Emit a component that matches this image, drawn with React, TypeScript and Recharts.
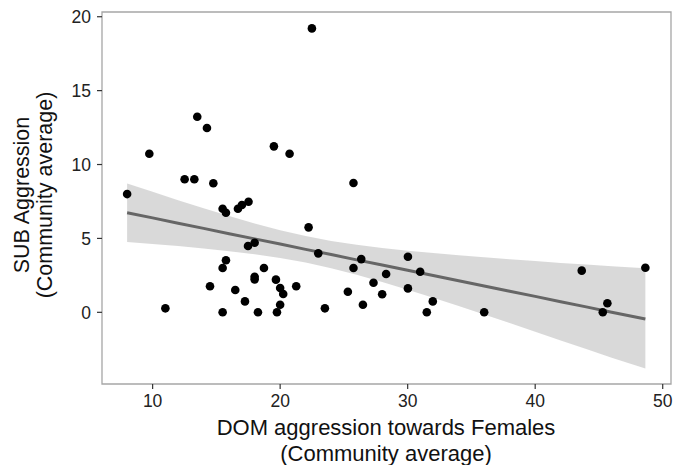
import React from "react";
import {
  ComposedChart,
  Scatter,
  Area,
  Line,
  XAxis,
  YAxis,
  ReferenceArea,
  Label,
} from "recharts";

// Observed community averages
const domX = [
  8.0, 9.74, 11.0, 12.51, 13.27, 13.5, 14.26, 14.5, 14.76, 15.49, 15.75, 15.75, 15.49, 15.49,
  16.48, 16.69, 17.0, 17.52, 17.24, 17.48, 18.0, 18.0, 18.0, 18.26, 18.73, 19.51, 19.67, 19.75,
  20.0, 20.24, 20.0, 20.74, 21.26, 22.23, 22.49, 22.99, 23.51, 25.31, 25.75, 25.75, 26.36, 26.49,
  27.32, 28.0, 28.31, 30.02, 30.98, 30.02, 31.97, 31.5, 36.0, 43.65, 45.3, 45.66, 48.64,
];
const subY = [
  8.0, 10.73, 0.27, 9.0, 9.0, 13.23, 12.47, 1.76, 8.73, 7.01, 6.74, 3.52, 3.0, 0.0,
  1.51, 7.01, 7.26, 7.48, 0.74, 4.49, 4.71, 2.41, 2.23, 0.0, 3.0, 11.23, 2.21, 0.0,
  1.64, 1.24, 0.51, 10.73, 1.76, 5.75, 19.21, 3.99, 0.27, 1.39, 8.75, 3.0, 3.6, 0.51,
  2.0, 1.22, 2.59, 3.76, 2.75, 1.62, 0.74, 0.0, 0.0, 2.82, 0.0, 0.61, 3.02,
];

// Fitted line and 95% band
const fitX = [8, 10, 12, 14, 16, 18, 20, 22, 24, 26, 28, 30, 32, 34, 36, 38, 40, 42, 44, 46, 48.64];
const fitY = [6.74, 6.39, 6.03, 5.68, 5.32, 4.97, 4.62, 4.26, 3.91, 3.55, 3.2, 2.85, 2.49, 2.14, 1.78, 1.43, 1.08, 0.72, 0.37, 0.01, -0.45];
const bandLow = [4.76, 4.62, 4.48, 4.32, 4.14, 3.93, 3.68, 3.37, 2.99, 2.54, 2.05, 1.53, 0.98, 0.42, -0.15, -0.73, -1.31, -1.9, -2.49, -3.08, -3.8];
const bandHigh = [8.72, 8.15, 7.59, 7.04, 6.51, 6.01, 5.55, 5.16, 4.83, 4.57, 4.35, 4.17, 4.01, 3.86, 3.72, 3.59, 3.47, 3.34, 3.23, 3.11, 2.98];

const xTicks = [10, 20, 30, 40, 50];
const yTicks = [0, 5, 10, 15, 20];
const xDomain = [6.03, 50.65];
const yDomain = [-4.85, 20.32];

const points = domX.map((x, i) => ({ x, y: subY[i] }));
const fitRows = fitX.map((x, i) => ({ x, fit: fitY[i], band: [bandLow[i], bandHigh[i]] }));

const FONT = "'Liberation Sans', Arial, Helvetica, sans-serif";

const XTitle = () => (
  <g>
    <text x={386} y={434.5} textAnchor="middle" fontSize={22} fontFamily={FONT} fill="#111">
      DOM aggression towards Females
    </text>
    <text x={386} y={460.5} textAnchor="middle" fontSize={22} fontFamily={FONT} fill="#111">
      (Community average)
    </text>
  </g>
);

const YTitle = () => (
  <g>
    <text x={29} y={195} transform="rotate(-90, 29, 195)" textAnchor="middle" fontSize={21.5} fontFamily={FONT} fill="#111">
      SUB Aggression
    </text>
    <text x={52} y={195} transform="rotate(-90, 52, 195)" textAnchor="middle" fontSize={21.5} fontFamily={FONT} fill="#111">
      (Community average)
    </text>
  </g>
);

export default function App() {
  return (
    <div style={{ position: "absolute", left: 0, top: 0, background: "#fff" }}>
      <ComposedChart
        width={686}
        height={465}
        data={fitRows}
        margin={{ top: 12, right: 15, bottom: 0, left: 42 }}
      >
        <XAxis
          dataKey="x"
          type="number"
          domain={xDomain}
          allowDataOverflow
          ticks={xTicks}
          axisLine={false}
          tickLine={{ stroke: "#333", strokeWidth: 1.2 }}
          tickSize={5}
          tickMargin={6}
          height={81}
          tick={{ fontSize: 17.5, fill: "#222", fontFamily: FONT }}
        >
          <Label content={() => <XTitle />} />
        </XAxis>
        <YAxis
          type="number"
          domain={yDomain}
          allowDataOverflow
          ticks={yTicks}
          axisLine={false}
          tickLine={{ stroke: "#333", strokeWidth: 1.2 }}
          tickSize={5}
          tickMargin={6}
          width={60}
          tick={{ fontSize: 17.5, fill: "#222", fontFamily: FONT }}
        >
          <Label content={() => <YTitle />} />
        </YAxis>
        <Scatter data={points} dataKey="y" fill="#000" isAnimationActive={false} shape={(p: any) => <circle cx={p.cx} cy={p.cy} r={4.3} fill="#000" />} />
        <Area
          dataKey="band"
          type="linear"
          stroke="none"
          fill="#ababab"
          fillOpacity={0.45}
          isAnimationActive={false}
          activeDot={false}
        />
        <Line
          dataKey="fit"
          type="linear"
          stroke="#666"
          strokeWidth={3}
          dot={false}
          activeDot={false}
          isAnimationActive={false}
        />
        <ReferenceArea
          x1={xDomain[0]}
          x2={xDomain[1]}
          y1={yDomain[0]}
          y2={yDomain[1]}
          fill="none"
          stroke="#a6a6a6"
          strokeWidth={1.3}
          ifOverflow="visible"
        />
      </ComposedChart>
    </div>
  );
}
